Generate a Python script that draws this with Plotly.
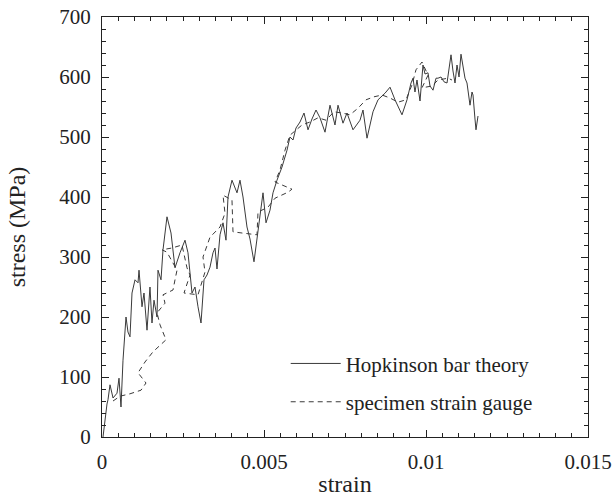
import plotly.graph_objects as go

# pixel-read data converted to strain / stress (MPa)
def sx(px):
    return round((px - 102) / 486 * 0.015, 6)

# Hopkinson bar theory (solid)
hop_px = [103, 105, 107, 108, 110, 113, 117, 119, 121, 123, 126, 128, 130, 132, 135, 138, 139,
          142, 144, 147, 150, 152, 154, 157, 158, 161, 163, 167, 171, 175, 180, 185, 188, 192,
          195, 198, 201, 204, 207, 210, 213, 215, 217, 220, 223, 226, 228, 232, 237, 240, 243,
          247, 250, 254, 258, 262, 263, 266, 270, 273, 277, 282, 287, 290, 293, 296, 300, 304,
          308, 312, 316, 320, 325, 330, 335, 338, 343, 347, 353, 360, 363, 367, 370, 373, 378,
          385, 390, 395, 402, 407, 411, 413, 415, 417, 420, 423, 425, 428, 430, 433, 436, 438,
          441, 444, 447, 449, 451, 453, 455, 457, 459, 461, 463, 465, 467, 469, 470, 472, 473,
          475, 476, 478]
hop_stress = [0, 30, 55, 62, 87, 65, 73, 98, 50, 128, 200, 175, 167, 240, 262, 257, 278,
              217, 240, 178, 250, 190, 228, 200, 278, 262, 312, 367, 340, 282, 307, 328, 307, 240,
              250, 217, 190, 262, 270, 283, 307, 315, 280, 337, 357, 328, 400, 428, 407, 428, 400,
              350, 330, 292, 340, 390, 407, 357, 378, 407, 428, 450, 478, 500, 495, 515, 525, 540,
              512, 530, 545, 532, 508, 553, 520, 553, 523, 540, 512, 528, 545, 498, 523, 542, 562,
              573, 583, 562, 537, 562, 590, 598, 575, 595, 560, 620, 605, 607, 585, 578, 598, 598,
              600, 592, 590, 612, 637, 610, 590, 620, 600, 638, 615, 598, 590, 565, 553, 575, 570,
              530, 512, 535]

# specimen strain gauge (dashed)
gauge_px = [113, 120, 130, 141, 146, 138, 145, 153, 166, 160, 157, 165, 163, 173, 175, 177,
            167, 162, 172, 182, 187, 190, 184, 198, 205, 203, 210, 220, 225, 223, 232, 233,
            242, 257, 258, 268, 275, 288, 292, 275, 280, 285, 290, 296, 302, 310, 318, 326,
            334, 342, 350, 358, 366, 374, 382, 390, 398, 406, 412, 416, 422, 428, 422, 432,
            438, 448, 452]
gauge_stress = [60, 68, 72, 78, 90, 107, 125, 142, 162, 187, 207, 223, 237, 245, 262, 278,
                308, 312, 315, 320, 282, 270, 240, 237, 275, 300, 333, 350, 373, 403, 395, 342,
                340, 337, 375, 383, 398, 408, 413, 425, 445, 478, 503, 512, 520, 525, 532, 528,
                542, 540, 537, 548, 562, 567, 570, 565, 558, 562, 587, 612, 625, 603, 582, 585,
                595, 598, 595]

x_tickvals = [0, 0.005, 0.01, 0.015]
x_ticktext = ["0", "0.005", "0.01", "0.015"]
y_tickvals = [0, 100, 200, 300, 400, 500, 600, 700]

hop_strain = [sx(p) for p in hop_px]
gauge_strain = [sx(p) for p in gauge_px]

FONT = "Times New Roman"

fig = go.Figure()
fig.add_trace(go.Scatter(x=hop_strain, y=hop_stress, mode="lines",
                         name="Hopkinson bar theory", legendgroup="a",
                         line=dict(color="#3a3a3a", width=1)))
fig.add_trace(go.Scatter(x=gauge_strain, y=gauge_stress, mode="lines",
                         name="specimen strain gauge", legendgroup="b",
                         line=dict(color="#3a3a3a", width=1, dash="5px,4px")))

axis_common = dict(showgrid=False, zeroline=False, showline=True, linecolor="#222",
                   linewidth=1, mirror="allticks", ticks="inside", ticklen=7,
                   automargin=False,
                   tickcolor="#222", tickfont=dict(family=FONT, size=21, color="#222"))

fig.update_xaxes(range=[0, 0.015], tickvals=x_tickvals, ticktext=x_ticktext,
                 minor=dict(dtick=0.0005, ticks="inside", ticklen=4, tickcolor="#222"),
                 ticklabelstandoff=6,
                 title=dict(text="strain", font=dict(family=FONT, size=24, color="#222"), standoff=1),
                 **axis_common)
fig.update_yaxes(range=[0, 700], tickvals=y_tickvals,
                 minor=dict(dtick=20, ticks="inside", ticklen=4, tickcolor="#222"),
                 ticklabelstandoff=6,
                 title=dict(text="stress (MPa)", font=dict(family=FONT, size=24, color="#222"), standoff=26),
                 **axis_common)

fig.update_layout(
    width=615, height=497,
    margin=dict(l=102, r=27, t=17, b=60),
    paper_bgcolor="white", plot_bgcolor="white",
    font=dict(family=FONT, size=21, color="#222"),
    showlegend=True,
    legend=dict(x=0.378, y=0.035, xanchor="left", yanchor="bottom", itemwidth=50,
                bgcolor="rgba(0,0,0,0)", font=dict(family=FONT, size=21, color="#222"),
                traceorder="grouped", tracegroupgap=8),
)

fig.write_html("out.html")
